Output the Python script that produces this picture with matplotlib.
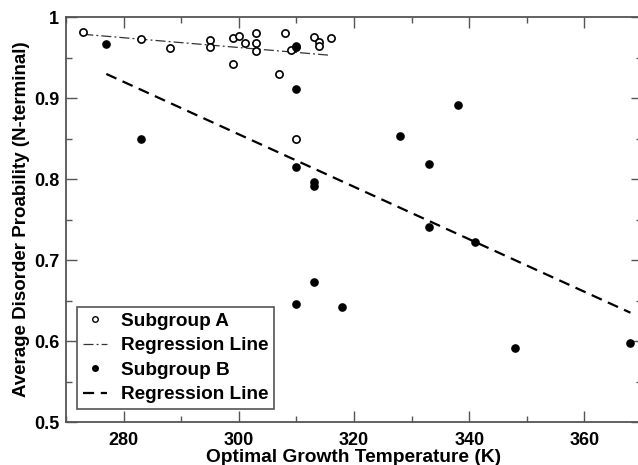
import matplotlib
matplotlib.use("Agg")
import matplotlib.pyplot as plt
from matplotlib.ticker import MultipleLocator, FixedLocator
from matplotlib.lines import Line2D

plt.rcParams['font.family'] = ['Liberation Sans', 'DejaVu Sans']
plt.rcParams['font.weight'] = 'bold'

# Subgroup A (open circles)
a_temp = [273, 283, 288, 295, 295, 299, 299, 300, 301, 303, 303, 303, 307, 308, 309, 310, 310, 313, 314, 314, 316]
a_prob = [0.982, 0.973, 0.962, 0.972, 0.963, 0.974, 0.942, 0.977, 0.968, 0.981, 0.968, 0.958, 0.930, 0.981, 0.959, 0.963, 0.850, 0.976, 0.969, 0.965, 0.974]

# Subgroup B (filled circles)
b_temp = [277, 283, 310, 310, 310, 313, 313, 313, 310, 318, 328, 333, 338, 333, 341, 348, 368]
b_prob = [0.967, 0.850, 0.965, 0.912, 0.815, 0.796, 0.791, 0.673, 0.646, 0.642, 0.853, 0.819, 0.892, 0.741, 0.723, 0.592, 0.598]

# Regression lines (end points)
reg_a_x = [273, 316]
reg_a_y = [0.979, 0.953]
reg_b_x = [277, 368]
reg_b_y = [0.930, 0.635]

x_ticks = [280, 300, 320, 340, 360]
x_tick_labels = ['280', '300', '320', '340', '360']
y_ticks = [0.5, 0.6, 0.7, 0.8, 0.9, 1.0]
y_tick_labels = ['0.5', '0.6', '0.7', '0.8', '0.9', '1']

fig = plt.figure(figsize=(6.38, 4.65), dpi=100)
ax = fig.add_axes([66/638, 43/465, 576/638, 404.7/465])

ax.plot(reg_a_x, reg_a_y, color='#333333', lw=0.9, linestyle=(0, (8, 2.5, 1.5, 2.5)))
ax.plot(reg_b_x, reg_b_y, color='black', lw=1.6, linestyle=(0, (5, 3)))
ax.plot(a_temp, a_prob, linestyle='none', marker='o', markersize=5.2,
        markerfacecolor='white', markeredgecolor='black', markeredgewidth=1.2, clip_on=False)
ax.plot(b_temp, b_prob, linestyle='none', marker='o', markersize=5.2,
        markerfacecolor='black', markeredgecolor='black', clip_on=True)

ax.set_xlim(270, 370)
ax.set_ylim(0.5, 1.0)
ax.xaxis.set_major_locator(FixedLocator(x_ticks))
ax.set_xticklabels(x_tick_labels)
ax.xaxis.set_minor_locator(MultipleLocator(10))
ax.yaxis.set_major_locator(FixedLocator(y_ticks))
ax.set_yticklabels(y_tick_labels)
ax.yaxis.set_minor_locator(MultipleLocator(0.05))

ax.tick_params(which='both', direction='in', top=True, right=True, color='#555555', width=1.0,
               labelsize=13)
ax.tick_params(which='major', length=8)
ax.tick_params(axis='x', which='major', pad=7)
ax.tick_params(axis='y', which='major', pad=5)
ax.tick_params(which='minor', length=4)
for lab in ax.get_xticklabels() + ax.get_yticklabels():
    lab.set_fontweight('bold')
for s in ax.spines.values():
    s.set_color('#555555')
    s.set_linewidth(1.3)

ax.set_xlabel('Optimal Growth Temperature (K)', fontsize=13.8, fontweight='bold', labelpad=0)
ax.set_ylabel('Average Disorder Proability (N-terminal)', fontsize=13.5, fontweight='bold', labelpad=3)

handles = [
    Line2D([], [], linestyle='none', marker='o', markersize=4, markerfacecolor='white',
           markeredgecolor='black', markeredgewidth=1.0),
    Line2D([], [], color='#333333', lw=0.9, linestyle=(0, (8, 2.5, 1.5, 2.5))),
    Line2D([], [], linestyle='none', marker='o', markersize=4, markerfacecolor='black',
           markeredgecolor='black'),
    Line2D([], [], color='black', lw=1.6, linestyle=(0, (5, 3))),
]
labels = ['Subgroup A', 'Regression Line', 'Subgroup B', 'Regression Line']
leg = ax.legend(handles, labels, loc='lower left', bbox_to_anchor=(0.019, 0.032),
                fancybox=False, framealpha=1, edgecolor='#555555', borderaxespad=0,
                prop={'weight': 'bold', 'size': 13.7}, handlelength=1.3, handletextpad=0.7,
                labelspacing=0.38, borderpad=0.3)
leg.get_frame().set_linewidth(1.2)

fig.savefig('out.png', dpi=100)
